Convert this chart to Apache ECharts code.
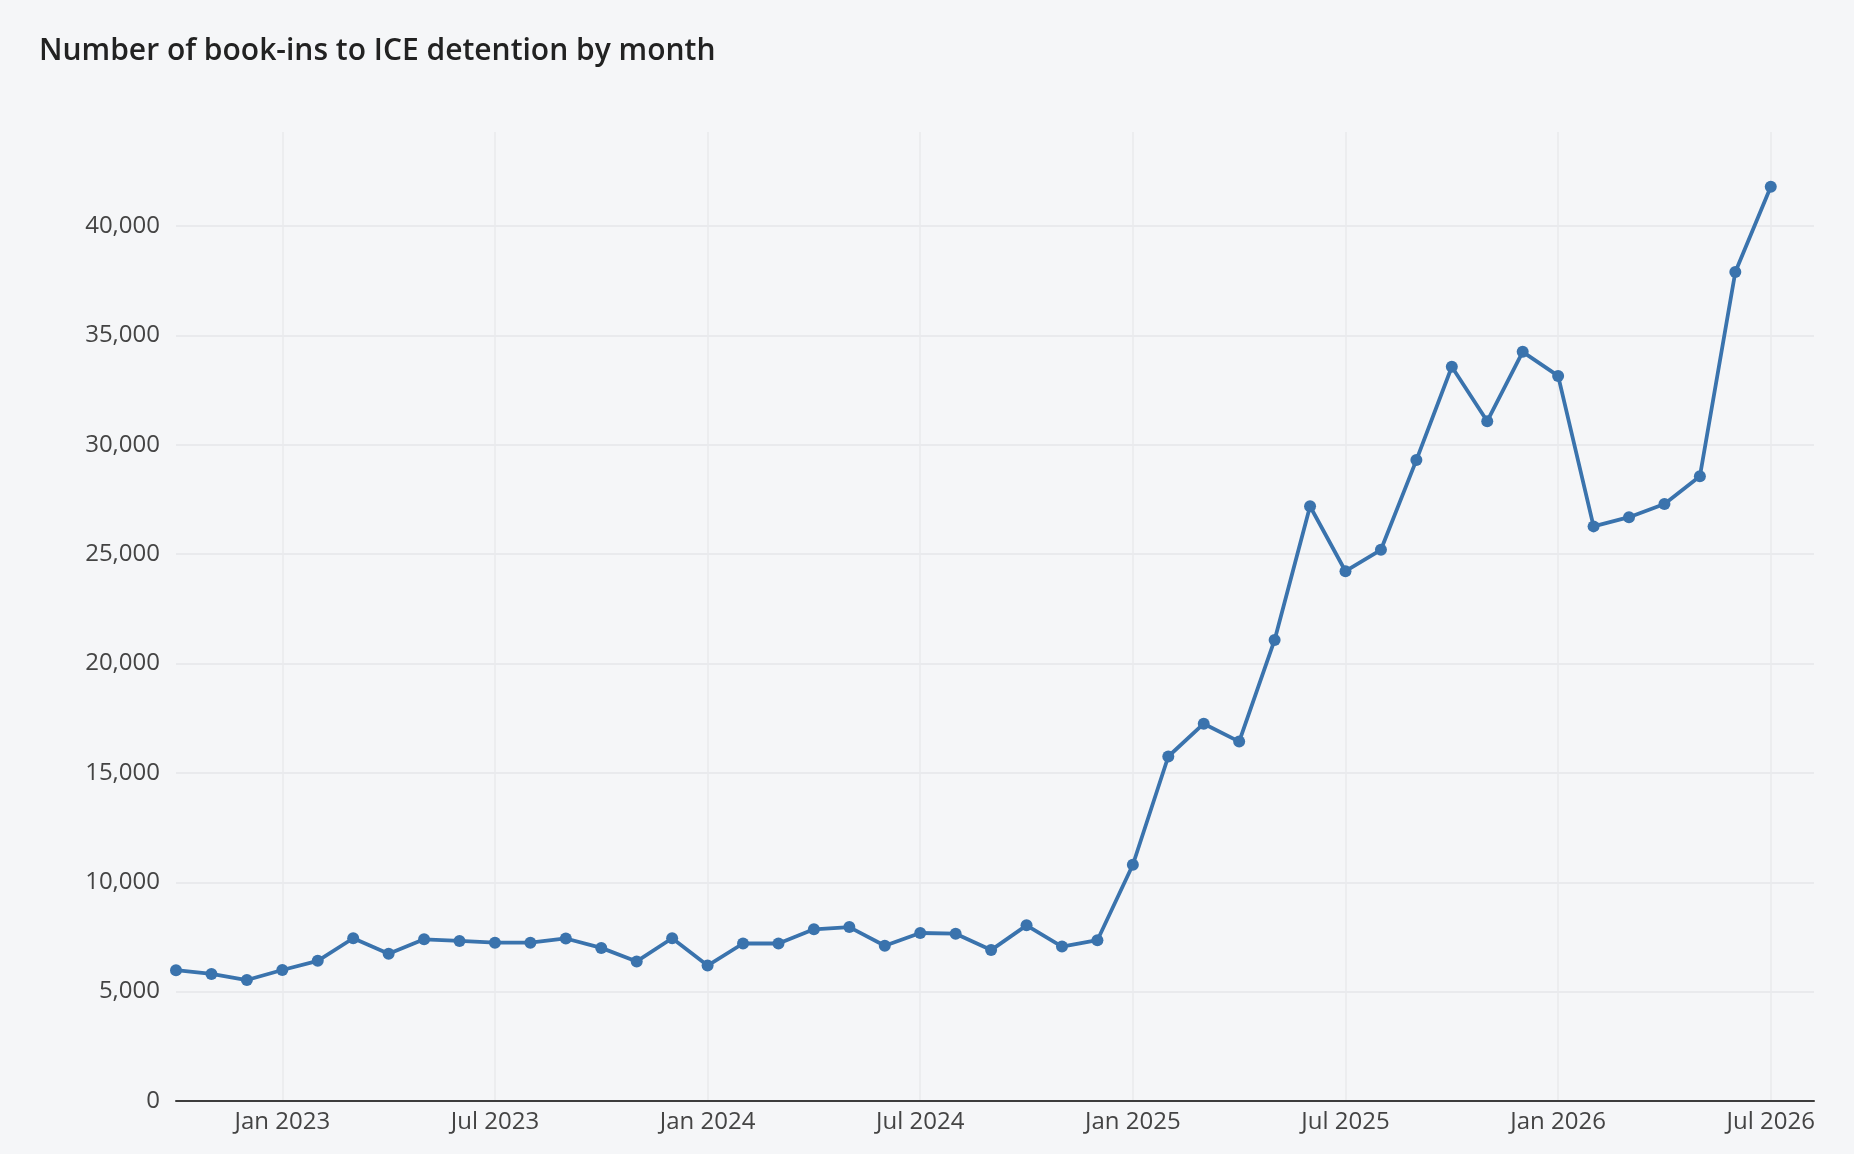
<!DOCTYPE html>
<html>
<head>
<meta charset="utf-8">
<title>ICE book-ins by month</title>
<script src="https://cdn.jsdelivr.net/npm/echarts@6/dist/echarts.min.js"></script>
<style>
  html, body { margin: 0; padding: 0; background: #f5f6f8; }
  #chart { width: 1854px; height: 1154px; }
</style>
</head>
<body>
<div id="chart"></div>
<script>
// monthly book-ins, Oct 2022 .. Jul 2026
var months = [
    '2022-10', '2022-11', '2022-12',
    '2023-01', '2023-02', '2023-03', '2023-04', '2023-05', '2023-06',
    '2023-07', '2023-08', '2023-09', '2023-10', '2023-11', '2023-12',
    '2024-01', '2024-02', '2024-03', '2024-04', '2024-05', '2024-06',
    '2024-07', '2024-08', '2024-09', '2024-10', '2024-11', '2024-12',
    '2025-01', '2025-02', '2025-03', '2025-04', '2025-05', '2025-06',
    '2025-07', '2025-08', '2025-09', '2025-10', '2025-11', '2025-12',
    '2026-01', '2026-02', '2026-03', '2026-04', '2026-05', '2026-06',
    '2026-07'
];
var bookIns = [
    5980, 5810, 5530,
    5990, 6410, 7440, 6730, 7390, 7320,
    7240, 7240, 7430, 7000, 6380, 7440,
    6190, 7200, 7200, 7850, 7950, 7100,
    7680, 7650, 6900, 8030, 7060, 7350,
    10800, 15750, 17250, 16430, 21080, 27190,
    24220, 25200, 29300, 33570, 31080, 34250,
    33150, 26270, 26690, 27290, 28560, 37900,
    41800
];
// half-year ticks on the x axis (Jan / Jul)
var tickMonths = ['2023-01', '2023-07', '2024-01', '2024-07',
    '2025-01', '2025-07', '2026-01', '2026-07'];
var monthNames = ['Jan', 'Feb', 'Mar', 'Apr', 'May', 'Jun',
    'Jul', 'Aug', 'Sep', 'Oct', 'Nov', 'Dec'];

// x is the month number counted from the first month
var seriesData = months.map(function (m, i) {
    return [i, bookIns[i]];
});
var tickValues = tickMonths.map(function (m) {
    return months.indexOf(m);
});

function monthLabel(v) {
    var p = months[Math.round(v)].split('-');
    return monthNames[+p[1] - 1] + ' ' + p[0];
}

var myChart = echarts.init(document.getElementById('chart'));

var option = {
    backgroundColor: '#f5f6f8',
    textStyle: { fontFamily: 'Open Sans' },
    title: {
        text: 'Number of book-ins to ICE detention by month',
        left: 34,
        top: 31,
        textStyle: {
            fontFamily: 'Open Sans',
            fontSize: 30,
            fontWeight: 600,
            color: '#222222'
        }
    },
    grid: {
        left: 176,
        right: 40,
        top: 132,
        bottom: 53,
        containLabel: false
    },
    xAxis: {
        type: 'value',
        min: 0,
        max: 46.22,
        axisLine: { show: true, onZero: false, lineStyle: { color: '#3d3d3d', width: 2 } },
        axisTick: { show: false, customValues: tickValues },
        axisLabel: {
            customValues: tickValues,
            margin: 9,
            fontSize: 24,
            color: '#444444',
            formatter: monthLabel
        },
        splitLine: {
            show: true,
            lineStyle: { color: '#e9eaed', width: 1.5 }
        }
    },
    yAxis: {
        type: 'value',
        min: 0,
        max: 44300,
        interval: 5000,
        axisLine: { show: false },
        axisTick: { show: false },
        axisLabel: {
            showMaxLabel: false,
            margin: 16,
            fontSize: 24,
            color: '#444444',
            formatter: function (v) {
                return v.toLocaleString('en-US');
            }
        },
        splitLine: {
            show: true,
            showMaxLine: false,
            lineStyle: { color: '#e9eaed', width: 2 }
        }
    },
    series: [{
        name: 'Book-ins',
        type: 'line',
        data: seriesData,
        symbol: 'circle',
        symbolSize: 12,
        showSymbol: true,
        lineStyle: { color: '#3a73ad', width: 3.8 },
        itemStyle: { color: '#3a73ad' },
        animation: false
    }]
};

myChart.setOption(option);
</script>
</body>
</html>
